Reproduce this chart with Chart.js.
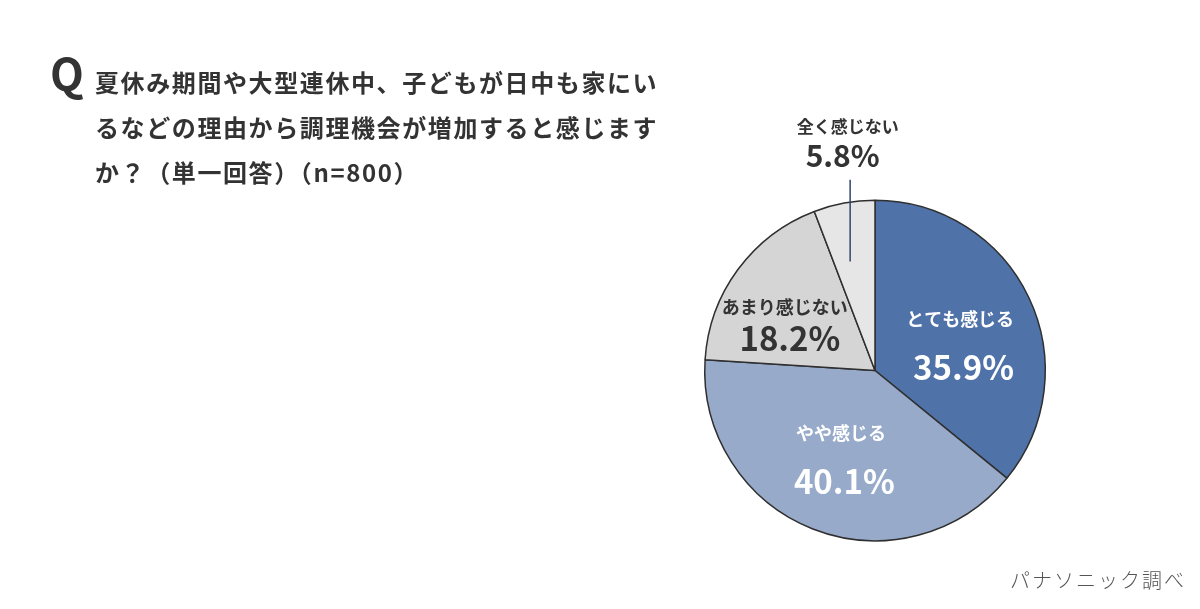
<!DOCTYPE html>
<html lang="ja">
<head>
<meta charset="utf-8">
<script src="https://cdn.jsdelivr.net/npm/chart.js@4.4.1/dist/chart.umd.min.js"></script>
<style>
  html, body { margin: 0; padding: 0; background: #fff; }
  #wrap { position: relative; width: 1200px; height: 609px; overflow: hidden; }
  #pie { position: absolute; left: 0; top: 0; }
  .q { position: absolute; left: 50px; top: 40px; font: 700 44px "Noto Sans CJK JP", "Noto Sans", sans-serif; color: #333; }
  .title { position: absolute; left: 95px; top: 59px; width: 640px; white-space: nowrap; font: 700 24px/45px "Noto Sans CJK JP", sans-serif; color: #333; letter-spacing: 1.6px; }
  .src { position: absolute; right: 14px; top: 565px; font: 300 20px "Noto Sans CJK JP", sans-serif; color: #555; letter-spacing: 2px; }
</style>
</head>
<body>
<div id="wrap">
  <canvas id="pie" width="1200" height="609"></canvas>
  <div class="q">Q</div>
  <div class="title">夏休み期間や大型連休中、子どもが日中も家にい<br>るなどの理由から調理機会が増加すると感じます<br>か？（単一回答）（n=800）</div>
  <div class="src">パナソニック調べ</div>
</div>
<script>
// data
let answers = ['とても感じる', 'やや感じる', 'あまり感じない', '全く感じない'];
let shares = [35.9, 40.1, 18.2, 5.8];
let sliceColors = ['#4f72a8', '#97aaca', '#d5d5d5', '#e6e6e6'];

// where each label sits, in units of the pie radius from its centre
let labelSpots = [
    { name: [0.50, -0.30], value: [0.52, -0.02], nameSize: 18, valueSize: 33, color: '#fff' },
    { name: [-0.20, 0.37], value: [-0.18, 0.65], nameSize: 18, valueSize: 33, color: '#fff' },
    { name: [-0.53, -0.37], value: [-0.50, -0.19], nameSize: 18, valueSize: 33, color: '#333' },
    { name: [-0.16, -1.43], value: [-0.19, -1.26], nameSize: 17, valueSize: 30, color: '#333' }
];

const pieLabels = {
    id: 'pieLabels',
    afterDraw(chart) {
        let c = chart.ctx;
        let arc0 = chart.getDatasetMeta(0).data[0];
        let cx = arc0.x, cy = arc0.y, r = arc0.outerRadius;
        c.save();
        c.textAlign = 'center';
        c.textBaseline = 'middle';
        labelSpots.forEach((s, i) => {
            c.fillStyle = s.color;
            c.font = '700 ' + s.nameSize + 'px "Noto Sans CJK JP", sans-serif';
            c.fillText(answers[i], cx + s.name[0] * r, cy + s.name[1] * r);
            c.font = '700 ' + s.valueSize + 'px "Noto Sans CJK JP", sans-serif';
            c.fillText(shares[i].toFixed(1) + '%', cx + s.value[0] * r, cy + s.value[1] * r);
        });
        // leader line for the small slice
        c.strokeStyle = '#34466b';
        c.lineWidth = 1.5;
        c.beginPath();
        c.moveTo(cx - 0.146 * r, cy - 1.12 * r);
        c.lineTo(cx - 0.146 * r, cy - 0.64 * r);
        c.stroke();
        c.restore();
    }
};

let ctx = document.getElementById('pie').getContext('2d');
let chart = new Chart(ctx, {
    type: 'pie',
    data: {
        labels: answers,
        datasets: [{
            data: shares,
            backgroundColor: sliceColors,
            borderColor: '#2f2f2f',
            borderWidth: 1.5
        }]
    },
    options: {
        responsive: false,
        animation: false,
        layout: { padding: { left: 704, right: 154, top: 199, bottom: 67 } },
        plugins: {
            legend: { display: false },
            tooltip: { enabled: false }
        }
    },
    plugins: [pieLabels]
});
</script>
</body>
</html>
